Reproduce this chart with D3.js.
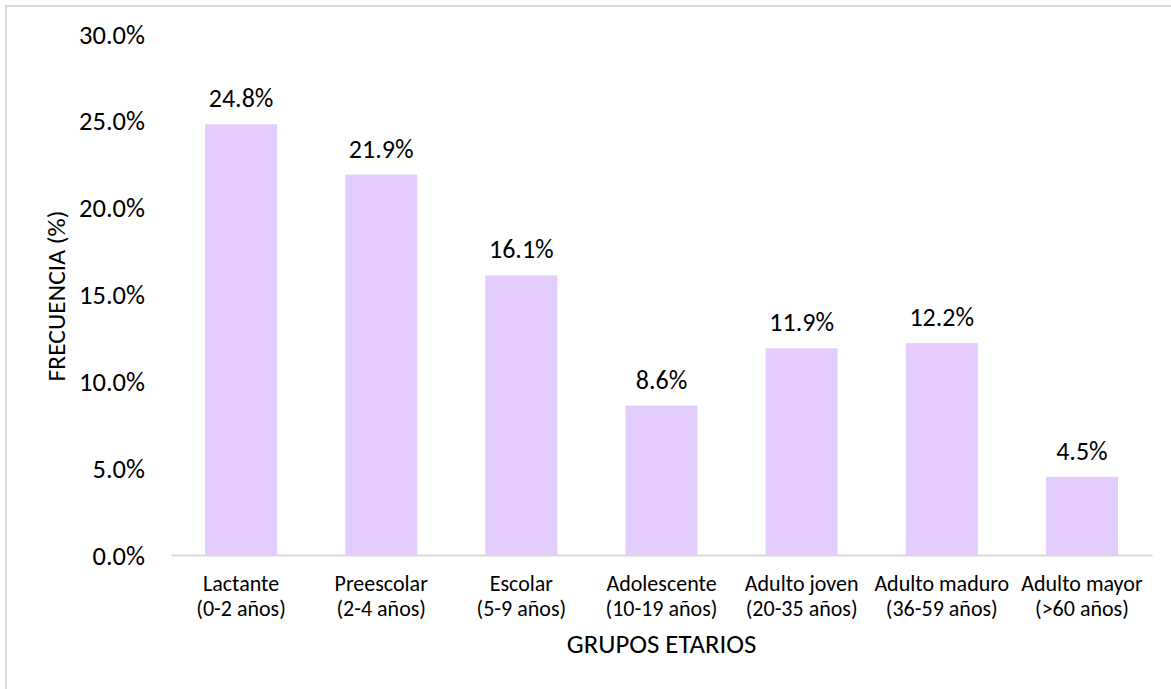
<!DOCTYPE html>
<html>
<head>
<meta charset="utf-8">
<script src="https://cdn.jsdelivr.net/npm/d3@7"></script>
<style>
  html, body { margin: 0; padding: 0; background: #fff; }
  svg { display: block; }
  svg text { font-family: Carlito, Calibri, Lato, "Open Sans", sans-serif; }
</style>
</head>
<body>
<svg id="chart" width="1171" height="689"></svg>
<script>
// Age groups (two-line labels) and their share of cases, in percent
const groupNames = ["Lactante", "Preescolar", "Escolar", "Adolescente", "Adulto joven", "Adulto maduro", "Adulto mayor"];
const groupRanges = ["(0-2 años)", "(2-4 años)", "(5-9 años)", "(10-19 años)", "(20-35 años)", "(36-59 años)", "(>60 años)"];
const frequency = [24.8, 21.9, 16.1, 8.6, 11.9, 12.2, 4.5];
const yTicks = [0, 5, 10, 15, 20, 25, 30];

const svg = d3.select("#chart");
const W = 1171, H = 689;
const margin = { top: 34, right: 19, bottom: 134, left: 171 };
const plotW = W - margin.left - margin.right;
const plotH = H - margin.top - margin.bottom;
const FONT = "Carlito, Calibri, Lato, 'Open Sans', sans-serif";

// Outer frame
svg.append("rect")
  .attr("x", 6).attr("y", 6)
  .attr("width", W).attr("height", H)
  .attr("fill", "#fff")
  .attr("stroke", "#d9d9d9").attr("stroke-width", 2);

const g = svg.append("g").attr("transform", `translate(${margin.left},${margin.top})`);

const x = d3.scaleBand()
  .domain(d3.range(frequency.length))
  .range([0, plotW])
  .paddingInner(0.486)
  .paddingOuter(0.243);

const y = d3.scaleLinear().domain([0, 30]).range([plotH, 0]);

// Bars
g.selectAll("rect.bar")
  .data(frequency)
  .join("rect")
  .attr("class", "bar")
  .attr("x", (d, i) => x(i))
  .attr("y", d => y(d))
  .attr("width", x.bandwidth())
  .attr("height", d => plotH - y(d))
  .attr("fill", "#e4ccfe");

// Value labels above bars
g.selectAll("text.value")
  .data(frequency)
  .join("text")
  .attr("class", "value")
  .attr("x", (d, i) => x(i) + x.bandwidth() / 2)
  .attr("y", d => y(d) - 17)
  .attr("text-anchor", "middle")
  .attr("font-size", 26)
  .attr("fill", "#000")
  .text(d => d.toFixed(1) + "%");

// Y axis: labels only
const yAxis = d3.axisLeft(y)
  .tickValues(yTicks)
  .tickSize(0)
  .tickPadding(26)
  .tickFormat(d => d.toFixed(1) + "%");
const yG = g.append("g").call(yAxis).attr("font-family", FONT);
yG.select(".domain").remove();
yG.selectAll("text")
  .attr("font-size", 26.5)
  .attr("fill", "#000")
  .attr("dy", 9);

// X axis: baseline and two-line category labels
const xAxis = d3.axisBottom(x).tickSize(0).tickFormat(() => "");
const xG = g.append("g").attr("transform", `translate(0,${plotH})`).call(xAxis).attr("font-family", FONT);
xG.select(".domain")
  .attr("stroke", "#d9d9d9")
  .attr("stroke-width", 2);
xG.selectAll(".tick").each(function(d) {
  const t = d3.select(this).select("text")
    .attr("font-size", 22)
    .attr("fill", "#000")
    .attr("y", 0)
    .attr("dy", null);
  t.append("tspan").attr("x", 0).attr("y", 36).text(groupNames[d]);
  t.append("tspan").attr("x", 0).attr("y", 61).text(groupRanges[d]);
});

// Axis titles
svg.append("text")
  .attr("x", margin.left + plotW / 2)
  .attr("y", 653)
  .attr("text-anchor", "middle")
  .attr("font-size", 26.8)
  .attr("fill", "#000")
  .text("GRUPOS ETARIOS");

svg.append("text")
  .attr("transform", "translate(65,296) rotate(-90)")
  .attr("text-anchor", "middle")
  .attr("font-size", 25.5)
  .attr("fill", "#000")
  .text("FRECUENCIA (%)");
</script>
</body>
</html>
